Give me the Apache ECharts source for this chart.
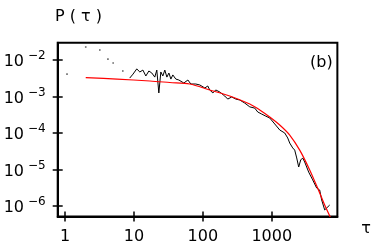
<!DOCTYPE html>
<html><head><meta charset="utf-8">
<script src="https://cdn.jsdelivr.net/npm/echarts@6/dist/echarts.min.js"></script>
<style>html,body{margin:0;padding:0;background:#fff}#c{width:374px;height:251px}</style>
</head><body><div id="c"></div>
<script>
// Reference tick values
const xTicks = [1, 10, 100, 1000];
const yTicks = [1e-6, 1e-5, 1e-4, 1e-3, 1e-2];

// Scattered early points (tau, P)
const dotTau = [1.07, 2.0, 3.2, 4.2, 5.0, 6.9];
const dotP   = [4.1e-3, 2.27e-2, 1.88e-2, 1.06e-2, 8.3e-3, 5.0e-3];

// Measured distribution (black)
const dataTau = [8.7, 9.7, 11.0, 12.2, 13.5, 14.9, 16.5, 18.2, 20.1, 21.5, 23.0, 24.6, 26.3, 28.1, 30.1, 32.2, 34.4, 36.7, 40.6, 44.9, 48.0, 53, 60.7, 67, 79, 90.5, 107, 118, 126, 140, 154, 176, 208, 230, 263, 301, 344, 406, 480, 567, 627, 716, 818, 935, 1105, 1306, 1543, 1706, 1824, 2015, 2155, 2303, 2462, 2632, 2813, 3007, 3436, 3927, 4488, 4963, 5306, 5866, 6270, 6930];
const dataP   = [3.2e-3, 4.1e-3, 5.7e-3, 4.7e-3, 5.3e-3, 3.65e-3, 5.0e-3, 4.4e-3, 3.4e-3, 5.3e-3, 1.25e-3, 4.7e-3, 3.65e-3, 5.3e-3, 3.4e-3, 4.4e-3, 3.0e-3, 3.9e-3, 3.0e-3, 2.83e-3, 3.2e-3, 2.34e-3, 2.83e-3, 2.2e-3, 2.2e-3, 2.07e-3, 1.71e-3, 1.94e-3, 1.51e-3, 1.25e-3, 1.51e-3, 1.33e-3, 1.03e-3, 8.5e-4, 9.7e-4, 8.5e-4, 8.0e-4, 6.6e-4, 5.2e-4, 4.8e-4, 3.76e-4, 3.3e-4, 2.9e-4, 2.58e-4, 1.77e-4, 1.21e-4, 1.0e-4, 7.3e-5, 5.3e-5, 3.9e-5, 3.4e-5, 2.07e-5, 1.17e-5, 1.82e-5, 2.07e-5, 1.6e-5, 8.5e-6, 5.2e-6, 3.1e-6, 2.74e-6, 1.46e-6, 7.8e-7, 6.9e-7, 1.06e-6];

// Fitted curve (red)
const fitTau = [2.0, 5.7, 17.1, 33.2, 64.8, 126, 246, 480, 670, 935, 1306, 1824, 2547, 3556, 4963, 5866, 7160];
const fitP   = [3.3e-3, 3.0e-3, 2.66e-3, 2.42e-3, 2.2e-3, 1.51e-3, 1.03e-3, 6.2e-4, 4.27e-4, 2.74e-4, 1.66e-4, 8.8e-5, 3.4e-5, 9.7e-6, 2.27e-6, 1.06e-6, 4.7e-7];

const zip = (a, b) => a.map((v, i) => [v, b[i]]);
const X_MIN = 0.784, X_MAX = 8960, Y_MIN = 5.15e-7, Y_MAX = 0.0298;
const FONT = 'DejaVu Sans';

const expLabel = v => {
  const e = Math.round(Math.log10(v));
  return '{a|10}{b|' + (e < 0 ? '\u2212' + (-e) : e) + '}';
};

const baseX = {
  type: 'log', logBase: 10, min: X_MIN, max: X_MAX, position: 'bottom',
  splitLine: { show: false }, minorTick: { show: false }
};
const baseY = {
  type: 'log', logBase: 10, min: Y_MIN, max: Y_MAX, position: 'left',
  splitLine: { show: false }, minorTick: { show: false }
};

const chart = echarts.init(document.getElementById('c'), null, { renderer: 'canvas' });
chart.setOption({
  animation: false,
  backgroundColor: '#fff',
  grid: { left: 57.7, top: 42.7, right: 36.3, bottom: 34.5, show: true, borderColor: '#000', borderWidth: 2, backgroundColor: 'transparent' },
  title: [
    { text: 'P ( \u03c4 )', left: 50, top: 4, textStyle: { fontFamily: FONT, fontSize: 16, fontWeight: 'normal', color: '#000' } },
    { text: '(b)', left: 305, top: 50, textStyle: { fontFamily: FONT, fontSize: 16, fontWeight: 'normal', color: '#000' } }
  ],
  xAxis: [
    Object.assign({}, baseX, {
      name: '\u03c4', nameLocation: 'end', nameGap: 24,
      nameTextStyle: { fontFamily: FONT, fontSize: 16, color: '#000', verticalAlign: 'top', padding: [4, 0, 0, 0] },
      axisLine: { show: true, lineStyle: { color: '#000', width: 2 } },
      axisTick: { show: true, length: 5, inside: false, customValues: xTicks, lineStyle: { color: '#000', width: 1.5 } },
      axisLabel: { show: true, customValues: xTicks, margin: 12, formatter: v => String(Math.round(v)), fontFamily: FONT, fontSize: 16, color: '#000' }
    }),
    Object.assign({}, baseX, {
      axisLine: { show: false },
      axisTick: { show: true, length: 5, inside: true, customValues: xTicks, lineStyle: { color: '#000', width: 1.5 } },
      axisLabel: { show: false }
    })
  ],
  yAxis: [
    Object.assign({}, baseY, {
      axisLine: { show: true, lineStyle: { color: '#000', width: 2 } },
      axisTick: { show: true, length: 5, inside: false, customValues: yTicks, lineStyle: { color: '#000', width: 1.5 } },
      axisLabel: {
        show: true, customValues: yTicks, margin: 12, formatter: expLabel,
        rich: {
          a: { fontFamily: FONT, fontSize: 16, color: '#000', lineHeight: 20, verticalAlign: 'bottom' },
          b: { fontFamily: FONT, fontSize: 12, color: '#000', lineHeight: 14, verticalAlign: 'top', padding: [0, 0, 0, 4] }
        }
      }
    }),
    Object.assign({}, baseY, {
      axisLine: { show: false },
      axisTick: { show: true, length: 5, inside: true, customValues: yTicks, lineStyle: { color: '#000', width: 1.5 } },
      axisLabel: { show: false }
    })
  ],
  series: [
    { type: 'scatter', xAxisIndex: 0, yAxisIndex: 0, data: zip(dotTau, dotP), symbol: 'rect', symbolSize: 1.6, itemStyle: { color: '#444' }, silent: true },
    { type: 'line', xAxisIndex: 0, yAxisIndex: 0, data: zip(fitTau, fitP), showSymbol: false, smooth: 0.3, lineStyle: { color: '#ff0000', width: 1.2 }, silent: true, z: 3 },
    { type: 'line', xAxisIndex: 0, yAxisIndex: 0, data: zip(dataTau, dataP), showSymbol: false, lineStyle: { color: '#000', width: 1 }, silent: true, z: 2 }
  ]
});
</script></body></html>
